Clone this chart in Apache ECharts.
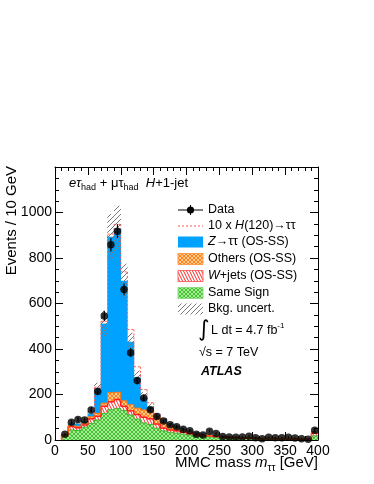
<!DOCTYPE html>
<html>
<head>
<meta charset="utf-8">
<script src="https://cdn.jsdelivr.net/npm/echarts@6/dist/echarts.min.js"></script>
<style>
  html, body { margin: 0; padding: 0; background: #fff; }
  #chart { width: 374px; height: 484px; }
</style>
</head>
<body>
<div id="chart"></div>
<script>
// bin lower edges, 10 GeV wide
const binLow = [0, 10, 20, 30, 40, 50, 60, 70, 80, 90, 100, 110, 120, 130, 140, 150, 160, 170, 180, 190,
  200, 210, 220, 230, 240, 250, 260, 270, 280, 290, 300, 310, 320, 330, 340, 350, 360, 370, 380, 390];
const binWidth = 10;

// stacked backgrounds (bottom -> top)
const sameSign = [0, 20, 44, 42, 57, 73, 88, 117, 133, 138, 130, 110, 92, 75, 68, 52, 40, 34, 30, 26,
  22, 18, 15, 14, 12, 10, 9, 8, 7, 7, 6, 5, 5, 5, 4, 4, 4, 3, 3, 18];
const wJets = [0, 1, 15, 12, 9, 20, 16, 31, 35, 40, 18, 18, 20, 25, 25, 18, 12, 10, 10, 8,
  6, 5, 4, 4, 3, 3, 2, 2, 2, 2, 1, 1, 1, 1, 1, 1, 1, 1, 1, 12];
const others = [0, 1, 4, 6, 7, 9, 13, 14, 40, 32, 24, 27, 28, 32, 37, 32, 24, 19, 13, 10,
  8, 6, 5, 4, 4, 3, 2, 2, 2, 1, 2, 1, 1, 1, 1, 1, 1, 1, 1, 4];
const zTauTau = [0, 2, 10, 13, 10, 15, 110, 350, 685, 720, 528, 277, 135, 58, 16, 5, 12, 9, 9, 8,
  7, 5, 5, 4, 3, 3, 2, 2, 2, 2, 1, 1, 1, 1, 1, 1, 1, 1, 1, 4];
// 10 x H(120) stacked on top
const signal = [0, 0, 0, 0, 0, 0, 5, 10, 12, 18, 39, 54, 47, 32, 18, 8, 4, 0, 0, 0,
  0, 0, 0, 0, 0, 0, 0, 0, 0, 0, 0, 0, 0, 0, 0, 0, 0, 0, 0, 0];
// bkg. uncertainty (+/-)
const bkgUnc = [0, 3, 8, 8, 9, 12, 25, 55, 100, 100, 75, 40, 30, 20, 15, 12, 10, 8, 7, 6,
  5, 4, 4, 3, 3, 3, 2, 2, 2, 2, 2, 1, 1, 1, 1, 1, 1, 1, 1, 5];
// data
const dataCounts = [null, 25, 78, 90, 88, 132, 213, 545, 858, 918, 662, 384, 261, 185, 133, 103, 83, 67, 58, 47,
  41, 25, 22, 39, 29, 15, 13, 12, 13, 17, 10, 5, 12, 10, 10, 12, 9, 5, 3, 43];

const FONT = 'Liberation Sans, Arial, Helvetica, sans-serif';

function makePattern(w, h, bg, draw) {
  const c = document.createElement('canvas');
  c.width = w; c.height = h;
  const ctx = c.getContext('2d');
  if (bg) { ctx.fillStyle = bg; ctx.fillRect(0, 0, w, h); }
  draw(ctx);
  return { image: c, repeat: 'repeat' };
}
// crosshatch mesh
function mesh(col) {
  return function (ctx) {
    ctx.fillStyle = col;
    for (let i = 0; i < 4; i++) {
      ctx.fillRect(i, i, 1, 1);
      ctx.fillRect(3 - i, i, 1, 1);
    }
  };
}
const greenFill = makePattern(4, 4, '#a6ea96', mesh('#45c236'));
const orangeFill = makePattern(4, 4, '#ffc894', mesh('#ff8418'));
const redFill = makePattern(3, 6, '#ffffff', function (ctx) {
  ctx.strokeStyle = '#ff2a2a'; ctx.lineWidth = 1;
  ctx.beginPath();
  ctx.moveTo(-3, 0); ctx.lineTo(0, 6);
  ctx.moveTo(0, 0); ctx.lineTo(3, 6);
  ctx.moveTo(3, 0); ctx.lineTo(6, 6);
  ctx.stroke();
});
const hatchFill = makePattern(5, 5, null, function (ctx) {
  ctx.strokeStyle = '#7a7a7a'; ctx.lineWidth = 1;
  ctx.beginPath();
  ctx.moveTo(0, 5); ctx.lineTo(5, 0);
  ctx.moveTo(-1, 1); ctx.lineTo(1, -1);
  ctx.moveTo(4, 6); ctx.lineTo(6, 4);
  ctx.stroke();
});
const blueFill = '#00a2ff';

// build stacked items [lo, hi, base, top, prevTop]
const layers = [
  { vals: sameSign, fill: greenFill, line: '#3fb832', lw: 1 },
  { vals: wJets, fill: redFill, line: '#ff1e1e', lw: 1.5 },
  { vals: others, fill: orangeFill, line: '#ff7400', lw: 1 },
  { vals: zTauTau, fill: blueFill, line: null, lw: 0 }
];
let cum = binLow.map(function () { return 0; });
layers.forEach(function (L) {
  L.items = binLow.map(function (lo, k) {
    const prevTop = k > 0 ? cum[k - 1] + L.vals[k - 1] : cum[k];
    return [lo, lo + binWidth, cum[k], cum[k] + L.vals[k], prevTop];
  });
  cum = cum.map(function (c, k) { return c + L.vals[k]; });
});
const total = cum;

function fillRender(fill) {
  return function (params, api) {
    const b = api.value(2), t = api.value(3);
    if (!(t > b)) return null;
    const a = api.coord([api.value(0), t]);
    const c = api.coord([api.value(1), b]);
    return {
      type: 'rect',
      shape: { x: a[0] - 0.3, y: a[1], width: c[0] - a[0] + 0.6, height: c[1] - a[1] },
      style: { fill: fill }
    };
  };
}
function lineRender(stroke, lw, dash) {
  return function (params, api) {
    const lo = api.value(0), hi = api.value(1), t = api.value(3), pt = api.value(4);
    if (t <= 0 && pt <= 0) return null;
    const a = api.coord([lo, t]), c = api.coord([hi, t]), p = api.coord([lo, pt]);
    const st = { stroke: stroke, lineWidth: lw, lineDash: dash || null };
    return {
      type: 'group',
      children: [
        { type: 'line', shape: { x1: a[0], y1: a[1], x2: c[0], y2: c[1] }, style: st },
        { type: 'line', shape: { x1: a[0], y1: p[1], x2: a[0], y2: a[1] }, style: st }
      ]
    };
  };
}

const series = [];
layers.forEach(function (L) {
  series.push({
    type: 'custom', renderItem: fillRender(L.fill), data: L.items, clip: true, z: 2,
    encode: { x: [0, 1], y: [2, 3] }
  });
});
layers.forEach(function (L) {
  if (!L.line) return;
  series.push({
    type: 'custom', renderItem: lineRender(L.line, L.lw), data: L.items, clip: true, z: 3,
    encode: { x: [0, 1], y: [2, 3] }
  });
});
// signal (dashed outline on top of the stack)
const sigItems = [];
binLow.forEach(function (lo, k) {
  const prevSig = k > 0 ? signal[k - 1] : 0;
  if (signal[k] > 0 || prevSig > 0) {
    const prevTop = k > 0 ? total[k - 1] + signal[k - 1] : total[k];
    sigItems.push([lo, lo + binWidth, total[k], total[k] + signal[k], prevTop, signal[k]]);
  }
});
series.push({
  type: 'custom', data: sigItems, clip: true, z: 4,
  encode: { x: [0, 1], y: [2, 3] },
  renderItem: function (params, api) {
    const lo = api.value(0), hi = api.value(1), t = api.value(3), pt = api.value(4), s = api.value(5);
    const a = api.coord([lo, t]), c = api.coord([hi, t]), p = api.coord([lo, pt]);
    const st = { stroke: '#ff5a5a', lineWidth: 1, lineDash: [2, 2] };
    const ch = [{ type: 'line', shape: { x1: a[0], y1: p[1], x2: a[0], y2: a[1] }, style: st }];
    if (s > 0) ch.push({ type: 'line', shape: { x1: a[0], y1: a[1], x2: c[0], y2: c[1] }, style: st });
    return { type: 'group', children: ch };
  }
});
// bkg. uncertainty band
series.push({
  type: 'custom', clip: true, z: 5,
  encode: { x: [0, 1], y: [2, 3] },
  data: binLow.map(function (lo, k) {
    return [lo, lo + binWidth, Math.max(0, total[k] - bkgUnc[k]), total[k] + bkgUnc[k]];
  }),
  renderItem: fillRender(hatchFill)
});
// data error bars + points
const dataPts = [];
binLow.forEach(function (lo, k) {
  if (dataCounts[k] !== null) dataPts.push([lo + binWidth / 2, dataCounts[k]]);
});
series.push({
  type: 'custom', clip: true, z: 6, data: dataPts,
  encode: { x: 0, y: 1 },
  renderItem: function (params, api) {
    const x = api.value(0), v = api.value(1), e = Math.sqrt(v);
    const a = api.coord([x, v + e]), b = api.coord([x, Math.max(0, v - e)]);
    return {
      type: 'line', shape: { x1: a[0], y1: a[1], x2: b[0], y2: b[1] },
      style: { stroke: '#000', lineWidth: 1.2 }
    };
  }
});
series.push({
  type: 'scatter', data: dataPts, symbol: 'circle', symbolSize: 7.5, z: 7,
  itemStyle: { color: '#000' }
});

function axisCommon(extra) {
  return Object.assign({
    type: 'value',
    axisLine: { show: true, onZero: false, lineStyle: { color: '#000', width: 1 } },
    axisTick: { show: true, inside: true, length: 8, lineStyle: { color: '#000' } },
    minorTick: { show: true, length: 4, lineStyle: { color: '#000' } },
    splitLine: { show: false },
    minorSplitLine: { show: false },
    axisLabel: {
      show: true, color: '#000', fontSize: 14, fontFamily: FONT, showMinLabel: true, showMaxLabel: true,
      formatter: function (v) { return String(v); }
    }
  }, extra);
}
const xBase = { min: 0, max: 400, interval: 50 };
const yBase = { min: 0, max: 1200, interval: 200 };

const xA0 = axisCommon(xBase); xA0.position = 'bottom'; xA0.minorTick.splitNumber = 5; xA0.axisLabel.margin = 4;
const xA1 = axisCommon(xBase); xA1.position = 'top'; xA1.minorTick.splitNumber = 5; xA1.axisLabel = { show: false };
const yA0 = axisCommon(yBase); yA0.position = 'left'; yA0.minorTick.splitNumber = 4; yA0.axisLabel.margin = 3;
yA0.axisLabel.showMaxLabel = false;
const yA1 = axisCommon(yBase); yA1.position = 'right'; yA1.minorTick.splitNumber = 4; yA1.axisLabel = { show: false };

function txt(x, y, text, font, extra) {
  return {
    type: 'text', x: x, y: y, z: 20,
    style: Object.assign({
      text: text, font: font || ('12.5px ' + FONT), fill: '#000',
      textAlign: 'left', align: 'left', textVerticalAlign: 'middle', verticalAlign: 'middle'
    }, extra || {})
  };
}
const legX = 178, legW = 25, legH = 11, legTx = 208;
function legBox(y, fill, stroke) {
  return {
    type: 'rect', z: 20, shape: { x: legX, y: y - legH / 2, width: legW, height: legH },
    style: { fill: fill, stroke: stroke || null, lineWidth: 1 }
  };
}
const richBase = {
  n: { fontSize: 12.5, fontFamily: FONT, lineHeight: 18 },
  i: { fontSize: 12.5, fontFamily: FONT, fontStyle: 'italic', lineHeight: 18 }
};

const graphics = [
  // header
  txt(69, 183, '{i|eτ}{s|had}{n| + μτ}{s|had}{n|  }{i|H}{n|+1-jet}', null, {
    rich: {
      n: { fontSize: 13, fontFamily: FONT, lineHeight: 18 },
      i: { fontSize: 13, fontFamily: FONT, fontStyle: 'italic', lineHeight: 18 },
      s: { fontSize: 9, fontFamily: FONT, lineHeight: 10, verticalAlign: 'bottom' }
    }
  }),
  // legend
  { type: 'line', z: 20, shape: { x1: legX, y1: 210, x2: legX + legW, y2: 210 }, style: { stroke: '#000', lineWidth: 1 } },
  { type: 'line', z: 20, shape: { x1: legX + 12.5, y1: 205, x2: legX + 12.5, y2: 215 }, style: { stroke: '#000', lineWidth: 1 } },
  { type: 'circle', z: 21, shape: { cx: legX + 12.5, cy: 210, r: 3.6 }, style: { fill: '#000' } },
  txt(legTx, 210, 'Data'),
  { type: 'line', z: 20, shape: { x1: legX, y1: 226, x2: legX + legW, y2: 226 }, style: { stroke: '#ff5a5a', lineWidth: 1, lineDash: [2, 2] } },
  txt(legTx, 226, '{n|10 x }{i|H}{n|(120)→ττ}', null, { rich: richBase }),
  legBox(242, blueFill),
  txt(legTx, 242, '{i|Z}{n|→ττ (OS-SS)}', null, { rich: richBase }),
  legBox(259, orangeFill, '#ff9a4a'),
  txt(legTx, 259, 'Others (OS-SS)'),
  legBox(276, redFill, '#ff6a6a'),
  txt(legTx, 276, '{i|W}{n|+jets (OS-SS)}', null, { rich: richBase }),
  legBox(293, greenFill, '#8ddc80'),
  txt(legTx, 293, 'Same Sign'),
  legBox(309, hatchFill),
  txt(legTx, 309, 'Bkg. uncert.'),
  txt(198, 330, '∫', '22px DejaVu Sans'),
  txt(211, 331, '{n|L dt = 4.7 fb}{p|-1}', null, {
    rich: {
      n: { fontSize: 12.5, fontFamily: FONT, lineHeight: 18 },
      p: { fontSize: 8, fontFamily: FONT, lineHeight: 10, verticalAlign: 'top' }
    }
  }),
  txt(199, 353, '√s = 7 TeV'),
  txt(201, 372, 'ATLAS', 'italic bold 12.5px ' + FONT),
  // axis titles
  txt(318, 463, '{n|MMC mass }{i|m}{s|ττ}{n| [GeV]}', null, {
    textAlign: 'right', align: 'right',
    rich: {
      n: { fontSize: 15, fontFamily: FONT, lineHeight: 20 },
      i: { fontSize: 15, fontFamily: FONT, fontStyle: 'italic', lineHeight: 20 },
      s: { fontSize: 10, fontFamily: FONT, lineHeight: 11, verticalAlign: 'bottom' }
    }
  }),
  {
    type: 'text', x: 12, y: 166, rotation: Math.PI / 2, z: 20,
    style: {
      text: 'Events / 10 GeV', font: '15px ' + FONT, fill: '#000',
      textAlign: 'right', align: 'right', textVerticalAlign: 'middle', verticalAlign: 'middle'
    }
  }
];

const myChart = echarts.init(document.getElementById('chart'), null, { renderer: 'canvas' });
myChart.setOption({
  animation: false,
  backgroundColor: '#fff',
  grid: { left: 55, right: 56, top: 167, bottom: 44, containLabel: false },
  xAxis: [xA0, xA1],
  yAxis: [yA0, yA1],
  series: series,
  graphic: graphics
});
</script>
</body>
</html>
